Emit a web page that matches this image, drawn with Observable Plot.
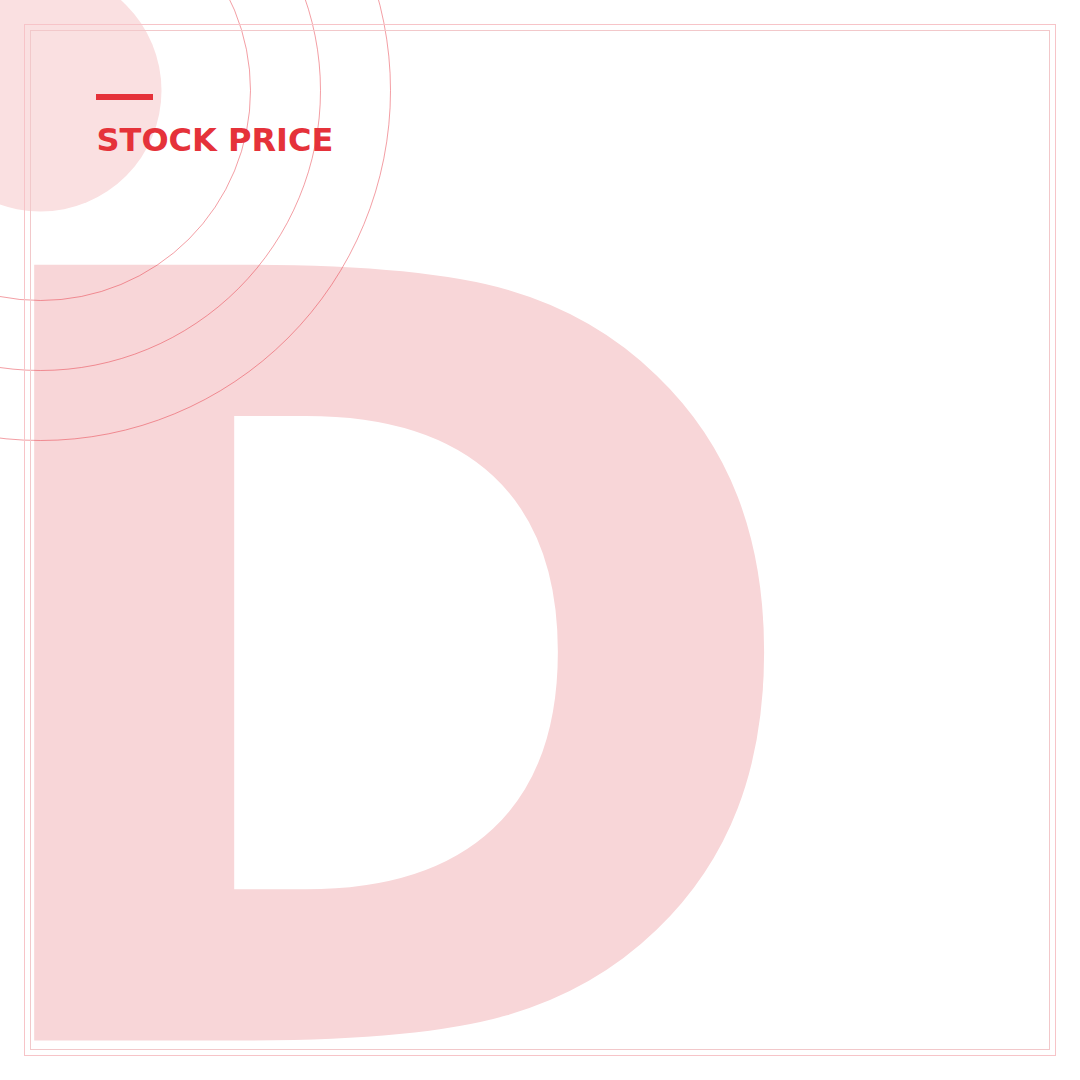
<!DOCTYPE html>
<html>
<head>
<meta charset="utf-8">
<script src="https://cdn.jsdelivr.net/npm/d3@7"></script>
<script src="https://cdn.jsdelivr.net/npm/@observablehq/plot@0.6"></script>
<style>
  html, body { margin: 0; padding: 0; background: #fff; overflow: hidden; }
  #chart svg { display: block; }
</style>
</head>
<body>
<div id="chart"></div>
<script>
// content
const titleText = ["STOCK PRICE"];
const bigLetter = ["D"];
const ringRadii = [210, 280, 350];
const discRadius = [121];
const frames = [
  {x1: 24.5, y1: 24.5, x2: 1055.5, y2: 1055.5, c: "#f7c4c8"},
  {x1: 30.5, y1: 30.5, x2: 1049.5, y2: 1049.5, c: "#f2c8ca"}
];

const W = 1080, H = 1080;
const cx = 40, cy = 90;

const plot = Plot.plot({
  width: W, height: H,
  margin: 0,
  x: {domain: [0, W], range: [0, W], axis: null},
  y: {domain: [0, H], range: [0, H], axis: null},
  r: {type: "identity"},
  color: {type: "identity"},
  style: {fontFamily: "DejaVu Sans, sans-serif", background: "#fff"},
  marks: [
    Plot.dot(discRadius, {x: () => cx, y: () => cy, r: d => d, fill: "#fae0e1", stroke: "none"}),
    Plot.text(bigLetter, {x: () => -64, y: () => 1040, text: d => d, fontSize: 1064, fontWeight: "bold",
      fill: "#f8d6d8", textAnchor: "start", lineAnchor: "bottom", fontFamily: "DejaVu Sans"}),
    Plot.dot(ringRadii, {x: () => cx, y: () => cy, r: d => d, fill: "none", stroke: "#e63946", strokeOpacity: 0.7, strokeWidth: 0.7}),
    Plot.rect(frames, {x1: "x1", y1: "y1", x2: "x2", y2: "y2", fill: "none", stroke: "c", strokeWidth: 1}),
    Plot.rect(titleText, {x1: () => 96, x2: () => 153, y1: () => 94, y2: () => 100, fill: "#e5323a"}),
    Plot.text(titleText, {x: () => 96, y: () => 150, text: d => d, fontSize: 32, fontWeight: "bold",
      fill: "#e5323a", textAnchor: "start", lineAnchor: "bottom", fontFamily: "DejaVu Sans"})
  ]
});
document.getElementById("chart").appendChild(plot);
</script>
</body>
</html>
